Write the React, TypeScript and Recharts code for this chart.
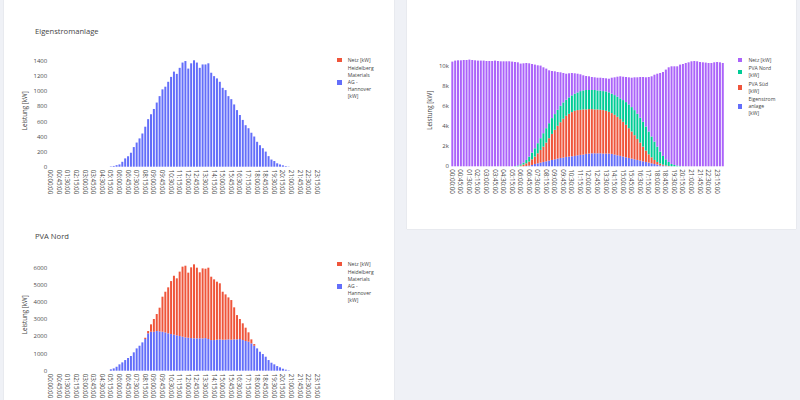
import React from "react";
import { BarChart, Bar, XAxis, YAxis } from "recharts";

const FONT = '"Open Sans", "DejaVu Sans", sans-serif';

const BLUE = "#636efa";
const RED = "#ef553b";
const GREEN = "#00cc96";
const PURPLE = "#ab63fa";

// 15-minute slots of the day
const TIMES = [
  "00:00:00", "00:15:00", "00:30:00", "00:45:00", "01:00:00", "01:15:00", "01:30:00", "01:45:00",
  "02:00:00", "02:15:00", "02:30:00", "02:45:00", "03:00:00", "03:15:00", "03:30:00", "03:45:00",
  "04:00:00", "04:15:00", "04:30:00", "04:45:00", "05:00:00", "05:15:00", "05:30:00", "05:45:00",
  "06:00:00", "06:15:00", "06:30:00", "06:45:00", "07:00:00", "07:15:00", "07:30:00", "07:45:00",
  "08:00:00", "08:15:00", "08:30:00", "08:45:00", "09:00:00", "09:15:00", "09:30:00", "09:45:00",
  "10:00:00", "10:15:00", "10:30:00", "10:45:00", "11:00:00", "11:15:00", "11:30:00", "11:45:00",
  "12:00:00", "12:15:00", "12:30:00", "12:45:00", "13:00:00", "13:15:00", "13:30:00", "13:45:00",
  "14:00:00", "14:15:00", "14:30:00", "14:45:00", "15:00:00", "15:15:00", "15:30:00", "15:45:00",
  "16:00:00", "16:15:00", "16:30:00", "16:45:00", "17:00:00", "17:15:00", "17:30:00", "17:45:00",
  "18:00:00", "18:15:00", "18:30:00", "18:45:00", "19:00:00", "19:15:00", "19:30:00", "19:45:00",
  "20:00:00", "20:15:00", "20:30:00", "20:45:00", "21:00:00", "21:15:00", "21:30:00", "21:45:00",
  "22:00:00", "22:15:00", "22:30:00", "22:45:00", "23:00:00", "23:15:00", "23:30:00", "23:45:00",
];

// Eigenstromanlage [kW]
const eigenHeidelberg = [
  0, 0, 0, 0, 0, 0, 0, 0, 0, 0, 0, 0,
  0, 0, 0, 0, 0, 0, 0, 0, 0, 5, 10, 20,
  30, 65, 110, 140, 185, 260, 320, 375, 440, 530, 630, 695,
  765, 850, 935, 1025, 1060, 1125, 1190, 1260, 1230, 1310, 1380, 1400,
  1300, 1370, 1410, 1380, 1310, 1355, 1355, 1370, 1245, 1200, 1170, 1125,
  1045, 1015, 935, 895, 825, 750, 685, 620, 550, 510, 450, 400,
  330, 285, 245, 200, 140, 95, 75, 45, 30, 18, 8, 3,
  0, 0, 0, 0, 0, 0, 0, 0, 0, 0, 0, 0,
];
const eigenNetz = [
  0, 0, 0, 0, 0, 0, 0, 0, 0, 0, 0, 0,
  0, 0, 0, 0, 0, 0, 0, 0, 0, 0, 0, 0,
  0, 0, 0, 0, 0, 0, 0, 0, 0, 0, 0, 0,
  0, 0, 0, 0, 0, 0, 0, 0, 0, 0, 0, 0,
  0, 0, 0, 0, 0, 0, 0, 0, 0, 0, 0, 0,
  0, 0, 0, 0, 0, 0, 0, 0, 0, 0, 0, 0,
  0, 0, 0, 0, 0, 0, 0, 0, 0, 0, 0, 0,
  0, 0, 0, 0, 0, 0, 0, 0, 0, 0, 0, 0,
];

// PVA Nord [kW]
const nordHeidelberg = [
  0, 0, 0, 0, 0, 0, 0, 0, 0, 0, 0, 0,
  0, 0, 0, 0, 0, 0, 0, 0, 0, 80, 135, 230,
  370, 485, 620, 740, 855, 1070, 1300, 1455, 1650, 1845, 2175, 2270,
  2270, 2310, 2290, 2270, 2230, 2175, 2135, 2100, 2060, 2020, 1980, 1940,
  1920, 1900, 1885, 1885, 1885, 1885, 1900, 1845, 1785, 1785, 1805, 1825,
  1805, 1805, 1825, 1805, 1825, 1825, 1845, 1785, 1730, 1690, 1590, 1455,
  1300, 1105, 970, 815, 620, 465, 370, 270, 195, 115, 60, 20,
  0, 0, 0, 0, 0, 0, 0, 0, 0, 0, 0, 0,
];
const nordNetz = [
  0, 0, 0, 0, 0, 0, 0, 0, 0, 0, 0, 0,
  0, 0, 0, 0, 0, 0, 0, 0, 0, 0, 0, 0,
  0, 0, 0, 0, 0, 0, 0, 0, 0, 75, 135, 430,
  740, 990, 1380, 2040, 2370, 2680, 3085, 3430, 3320, 3750, 4080, 4175,
  3790, 4120, 4310, 4115, 3845, 4075, 4040, 4155, 3690, 3535, 3380, 3265,
  2795, 2640, 2445, 2310, 1865, 1415, 1165, 975, 775, 545, 235, 95,
  0, 0, 0, 0, 0, 0, 0, 0, 0, 0, 0, 0,
  0, 0, 0, 0, 0, 0, 0, 0, 0, 0, 0, 0,
];

// Gesamt (right chart) [kW]
const totalEigen = [
  0, 0, 0, 0, 0, 0, 0, 0, 0, 0, 0, 0,
  0, 0, 0, 0, 0, 0, 0, 0, 0, 0, 0, 0,
  0, 0, 30, 70, 135, 235, 300, 370, 435, 500, 570, 635,
  700, 770, 835, 870, 935, 970, 1000, 1040, 1100, 1140, 1170, 1240,
  1270, 1300, 1300, 1300, 1300, 1270, 1270, 1270, 1240, 1170, 1100, 1040,
  970, 900, 835, 770, 700, 635, 570, 500, 435, 370, 300, 235,
  170, 100, 70, 35, 0, 0, 0, 0, 0, 0, 0, 0,
  0, 0, 0, 0, 0, 0, 0, 0, 0, 0, 0, 0,
];
const totalSued = [
  0, 0, 0, 0, 0, 0, 0, 0, 0, 0, 0, 0,
  0, 0, 0, 0, 0, 0, 0, 0, 0, 0, 0, 0,
  70, 170, 270, 400, 565, 735, 1000, 1270, 1535, 1870, 2240, 2605,
  2950, 3280, 3575, 3880, 4115, 4280, 4420, 4510, 4520, 4510, 4520, 4450,
  4450, 4420, 4390, 4390, 4350, 4350, 4280, 4180, 4080, 3980, 3850, 3680,
  3480, 3250, 2975, 2710, 2410, 2105, 1800, 1470, 1135, 830, 600, 400,
  265, 170, 100, 65, 35, 0, 0, 0, 0, 0, 0, 0,
  0, 0, 0, 0, 0, 0, 0, 0, 0, 0, 0, 0,
];
const totalNord = [
  0, 0, 0, 0, 0, 0, 0, 0, 0, 0, 0, 0,
  0, 0, 0, 0, 0, 0, 0, 0, 0, 0, 20, 70,
  130, 200, 335, 500, 670, 830, 1010, 1170, 1340, 1440, 1500, 1580,
  1570, 1600, 1640, 1640, 1610, 1640, 1670, 1710, 1770, 1870, 1900, 1940,
  1910, 1910, 1940, 1900, 1910, 1900, 1940, 1940, 1940, 1970, 2010, 2070,
  2170, 2270, 2380, 2440, 2510, 2510, 2480, 2480, 2410, 2280, 2080, 1835,
  1535, 1200, 870, 600, 400, 235, 135, 70, 35, 10, 0, 0,
  0, 0, 0, 0, 0, 0, 0, 0, 0, 0, 0, 0,
];
const totalNetz = [
  10470, 10570, 10600, 10600, 10630, 10630, 10670, 10630, 10600, 10570, 10570, 10570,
  10530, 10530, 10530, 10570, 10530, 10500, 10500, 10500, 10500, 10470, 10410, 10330,
  10070, 9930, 9695, 9330, 8860, 8370, 7790, 7260, 6590, 5960, 5290, 4710,
  4280, 3780, 3350, 2940, 2600, 2410, 2240, 2040, 1870, 1680, 1510, 1400,
  1370, 1300, 1270, 1270, 1300, 1310, 1310, 1370, 1600, 1780, 2000, 2210,
  2340, 2510, 2710, 2940, 3280, 3650, 4080, 4480, 4920, 5450, 6020, 6690,
  7290, 7860, 8390, 8970, 9465, 9765, 9865, 9930, 10135, 10220, 10330, 10400,
  10500, 10530, 10500, 10430, 10400, 10370, 10330, 10330, 10400, 10430, 10400, 10330,
];

const ticksEigen = [0, 200, 400, 600, 800, 1000, 1200, 1400];
const ticksNord = [0, 1000, 2000, 3000, 4000, 5000, 6000];
const ticksTotal = [0, 2000, 4000, 6000, 8000, 10000];

const heidelbergLines = ["Heidelberg", "Materials", "AG -", "Hannover", "[kW]"];

interface Series {
  key: string;
  color: string;
  values: number[];
}

interface LegendItem {
  lines: string[];
  color: string;
}

const TimeTick = (props: any) => {
  const { x, y, payload } = props;
  return (
    <text
      x={x}
      y={y}
      transform={`rotate(90, ${x}, ${y})`}
      textAnchor="start"
      dominantBaseline="central"
      fontSize={6.2}
      fill="#4a4a4a"
      fontFamily={FONT}
    >
      {payload.value}
    </text>
  );
};

const ChartLegend: React.FC<{ left: number; top: number; items: LegendItem[] }> = ({
  left,
  top,
  items,
}) => (
  <div
    style={{
      position: "absolute",
      left,
      top,
      fontFamily: FONT,
      fontSize: 5.1,
      lineHeight: "6.95px",
      color: "#444",
      whiteSpace: "nowrap",
    }}
  >
    {items.map((item, i) => (
      <div key={i} style={{ display: "flex", alignItems: "center", marginBottom: 1.6 }}>
        <span style={{ width: 4.5, height: 4.5, background: item.color, marginRight: 6.2 }} />
        <div>
          {item.lines.map((l, j) => (
            <div key={j}>{l}</div>
          ))}
        </div>
      </div>
    ))}
  </div>
);

interface StackChartProps {
  left: number;
  top: number;
  width: number;
  height: number;
  margin: { top: number; right: number; bottom: number; left: number };
  yMax: number;
  ticks: number[];
  tickFormatter?: (v: number) => string;
  titleDx: number;
  series: Series[];
}

const StackChart: React.FC<StackChartProps> = ({
  left,
  top,
  width,
  height,
  margin,
  yMax,
  ticks,
  tickFormatter,
  titleDx,
  series,
}) => {
  const rows = TIMES.map((t, i) => {
    const row: Record<string, string | number> = { time: t };
    series.forEach((s) => {
      row[s.key] = s.values[i];
    });
    return row;
  });

  return (
    <div style={{ position: "absolute", left, top }}>
      <BarChart width={width} height={height} data={rows} margin={margin} barCategoryGap="15%">
        <XAxis
          dataKey="time"
          interval={2}
          tick={<TimeTick />}
          tickLine={false}
          axisLine={false}
          tickSize={0}
          tickMargin={3}
          height={26}
        />
        <YAxis
          type="number"
          domain={[0, yMax]}
          ticks={ticks}
          tickFormatter={tickFormatter}
          tickLine={false}
          axisLine={false}
          tickSize={0}
          tickMargin={2}
          width={40}
          tick={{ fontSize: 6, fill: "#4a4a4a", fontFamily: FONT }}
          label={{
            value: "Leistung [kW]",
            angle: -90,
            position: "center",
            dx: titleDx,
            style: { fontSize: 6.2, fill: "#444", fontFamily: FONT },
          }}
        />
        {series.map((s) => (
          <Bar key={s.key} dataKey={s.key} stackId="s" fill={s.color} isAnimationActive={false} />
        ))}
      </BarChart>
    </div>
  );
};

const titleStyle: React.CSSProperties = {
  position: "absolute",
  fontFamily: FONT,
  fontSize: 7.6,
  lineHeight: "10px",
  color: "#444",
};

export default function App() {
  return (
    <div
      style={{
        position: "fixed",
        left: 0,
        top: 0,
        width: 800,
        height: 400,
        background: "#eff1f6",
        overflow: "hidden",
      }}
    >
      <div
        style={{
          position: "absolute",
          left: 4,
          top: -10,
          width: 390,
          height: 420,
          background: "#fff",
          boxShadow: "0 0 1px rgba(0,0,0,0.18)",
        }}
      />
      <div
        style={{
          position: "absolute",
          left: 407,
          top: -10,
          width: 389,
          height: 239,
          background: "#fff",
          boxShadow: "0 0 1px rgba(0,0,0,0.18)",
        }}
      />

      {/* Eigenstromanlage */}
      <div style={{ ...titleStyle, left: 35, top: 26 }}>Eigenstromanlage</div>
      <StackChart
        left={0}
        top={0}
        width={400}
        height={200}
        margin={{ top: 54.7, right: 75.5, bottom: 7.3, left: 9.2 }}
        yMax={1484}
        ticks={ticksEigen}
        titleDx={-4}
        series={[
          { key: "heidelberg", color: BLUE, values: eigenHeidelberg },
          { key: "netz", color: RED, values: eigenNetz },
        ]}
      />
      <ChartLegend
        left={337}
        top={56.5}
        items={[
          { lines: ["Netz [kW]"], color: RED },
          { lines: heidelbergLines, color: BLUE },
        ]}
      />

      {/* PVA Nord */}
      <div style={{ ...titleStyle, left: 35, top: 231 }}>PVA Nord</div>
      <StackChart
        left={0}
        top={200}
        width={400}
        height={200}
        margin={{ top: 58.7, right: 75.5, bottom: 3.3, left: 9.2 }}
        yMax={6523}
        ticks={ticksNord}
        titleDx={-4}
        series={[
          { key: "heidelberg", color: BLUE, values: nordHeidelberg },
          { key: "netz", color: RED, values: nordNetz },
        ]}
      />
      <ChartLegend
        left={337}
        top={260.5}
        items={[
          { lines: ["Netz [kW]"], color: RED },
          { lines: heidelbergLines, color: BLUE },
        ]}
      />

      {/* Gesamt */}
      <StackChart
        left={400}
        top={0}
        width={400}
        height={240}
        margin={{ top: 54, right: 75.8, bottom: 47.7, left: 10.9 }}
        yMax={11230}
        ticks={ticksTotal}
        tickFormatter={(v) => (v === 0 ? "0" : `${v / 1000}k`)}
        titleDx={-1}
        series={[
          { key: "eigen", color: BLUE, values: totalEigen },
          { key: "sued", color: RED, values: totalSued },
          { key: "nord", color: GREEN, values: totalNord },
          { key: "netz", color: PURPLE, values: totalNetz },
        ]}
      />
      <ChartLegend
        left={737.7}
        top={56.5}
        items={[
          { lines: ["Netz [kW]"], color: PURPLE },
          { lines: ["PVA Nord", "[kW]"], color: GREEN },
          { lines: ["PVA Süd", "[kW]"], color: RED },
          { lines: ["Eigenstrom", "anlage", "[kW]"], color: BLUE },
        ]}
      />
    </div>
  );
}
